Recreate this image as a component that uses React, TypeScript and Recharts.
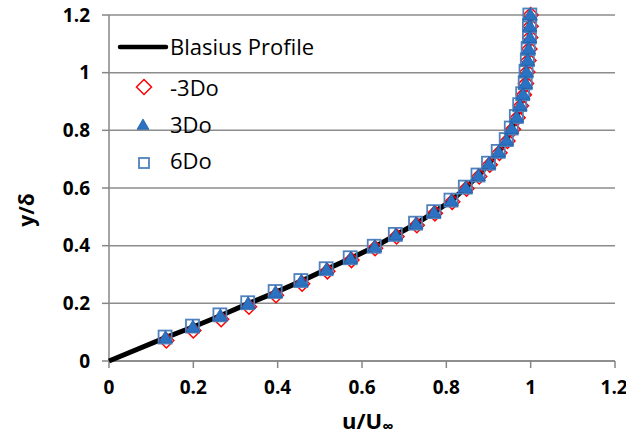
import React from "react";
import { CartesianGrid, Scatter, ScatterChart, XAxis, YAxis } from "recharts";

// Blasius solution, u/U vs y/delta
const blasiusU = [0, 0.134, 0.199, 0.264, 0.33, 0.395, 0.456, 0.516, 0.573, 0.63, 0.68, 0.728, 0.771, 0.812, 0.846, 0.876, 0.901, 0.924, 0.943, 0.955, 0.967, 0.975, 0.982, 0.988, 0.99, 0.993, 0.995, 0.998, 0.998, 0.999];
const blasiusY = [0, 0.081, 0.118, 0.157, 0.199, 0.238, 0.277, 0.318, 0.356, 0.396, 0.437, 0.476, 0.516, 0.556, 0.601, 0.643, 0.684, 0.725, 0.766, 0.806, 0.846, 0.887, 0.925, 0.963, 1.003, 1.043, 1.082, 1.122, 1.161, 1.2];

// measured stations
const minus3DoU = [0.136, 0.2, 0.266, 0.332, 0.396, 0.458, 0.518, 0.575, 0.631, 0.682, 0.73, 0.773, 0.814, 0.848, 0.878, 0.903, 0.926, 0.945, 0.958, 0.969, 0.977, 0.984, 0.989, 0.992, 0.995, 0.997, 0.999, 1.0, 1.0];
const minus3DoY = [0.071, 0.106, 0.145, 0.188, 0.228, 0.268, 0.311, 0.35, 0.391, 0.432, 0.471, 0.512, 0.552, 0.598, 0.64, 0.681, 0.722, 0.763, 0.804, 0.844, 0.885, 0.923, 0.962, 1.002, 1.042, 1.082, 1.122, 1.161, 1.2];

const plus3DoU = [0.134, 0.199, 0.264, 0.33, 0.395, 0.456, 0.516, 0.573, 0.63, 0.68, 0.728, 0.771, 0.812, 0.846, 0.876, 0.901, 0.924, 0.943, 0.955, 0.967, 0.975, 0.982, 0.988, 0.99, 0.993, 0.995, 0.998, 0.998, 0.999];
const plus3DoY = [0.081, 0.118, 0.157, 0.199, 0.238, 0.277, 0.318, 0.356, 0.396, 0.437, 0.476, 0.516, 0.556, 0.601, 0.643, 0.684, 0.725, 0.766, 0.806, 0.846, 0.887, 0.925, 0.963, 1.003, 1.043, 1.082, 1.122, 1.161, 1.2];

const plus6DoU = [0.133, 0.198, 0.263, 0.329, 0.394, 0.455, 0.515, 0.572, 0.629, 0.679, 0.727, 0.77, 0.811, 0.845, 0.875, 0.9, 0.923, 0.942, 0.954, 0.966, 0.974, 0.981, 0.987, 0.989, 0.992, 0.994, 0.997, 0.997, 0.998];
const plus6DoY = [0.083, 0.121, 0.16, 0.202, 0.241, 0.279, 0.32, 0.358, 0.398, 0.439, 0.478, 0.518, 0.558, 0.603, 0.645, 0.686, 0.727, 0.768, 0.808, 0.848, 0.889, 0.927, 0.965, 1.005, 1.045, 1.084, 1.124, 1.163, 1.2];

const xTicks = [0, 0.2, 0.4, 0.6, 0.8, 1, 1.2];
const yTicks = [0, 0.2, 0.4, 0.6, 0.8, 1, 1.2];

const toPoints = (xs: number[], ys: number[]) => xs.map((x, i) => ({ x, y: ys[i] }));

const FONT = "'Open Sans', 'Liberation Sans', sans-serif";
const AXIS_GRAY = "#868686";
const RED = "#ff0000";
const BLUE = "#2b72c2";
const SQUARE_BLUE = "#4f81bd";

const tickStyle = { fontFamily: FONT, fontSize: 19, fontWeight: 700, fill: "#000" };

function Diamond({ cx, cy }: any) {
  const r = 7.5;
  return (
    <polygon
      points={`${cx},${cy - r} ${cx + r},${cy} ${cx},${cy + r} ${cx - r},${cy}`}
      fill="none"
      stroke={RED}
      strokeWidth={1.5}
    />
  );
}

function Triangle({ cx, cy, s = 1 }: any) {
  return (
    <polygon
      points={`${cx},${cy - 7 * s} ${cx + 7 * s},${cy + 5 * s} ${cx - 7 * s},${cy + 5 * s}`}
      fill={BLUE}
      stroke="#1e5fa8"
      strokeWidth={0.8}
    />
  );
}

function Square({ cx, cy, h = 6.5 }: any) {
  return (
    <rect x={cx - h} y={cy - h} width={h * 2} height={h * 2} fill="none" stroke={SQUARE_BLUE} strokeWidth={1.8} />
  );
}

function NoDot() {
  return <g />;
}

export default function App() {
  return (
    <div style={{ position: "absolute", left: 0, top: 0, width: 626, height: 439, background: "#fff" }}>
      <ScatterChart width={626} height={439} margin={{ top: 15, right: 11, bottom: 0, left: 0 }}>
        <CartesianGrid vertical={false} stroke="#8c8c8c" strokeWidth={1.5} />
        <XAxis
          type="number"
          dataKey="x"
          domain={[0, 1.2]}
          ticks={xTicks}
          height={78}
          stroke={AXIS_GRAY}
          strokeWidth={1.5}
          tickSize={7}
          tickMargin={13}
          tick={tickStyle}
        />
        <YAxis
          type="number"
          dataKey="y"
          domain={[0, 1.2]}
          ticks={yTicks}
          width={109}
          stroke={AXIS_GRAY}
          strokeWidth={1.5}
          tickSize={7}
          tickMargin={12}
          tick={tickStyle}
        />
        <Scatter
          name="Blasius Profile"
          data={toPoints(blasiusU, blasiusY)}
          line={{ stroke: "#000", strokeWidth: 5 }}
          shape={NoDot}
          isAnimationActive={false}
        />
        <Scatter name="-3Do" data={toPoints(minus3DoU, minus3DoY)} shape={Diamond} isAnimationActive={false} />
        <Scatter name="6Do" data={toPoints(plus6DoU, plus6DoY)} shape={Square} isAnimationActive={false} />
        <Scatter name="3Do" data={toPoints(plus3DoU, plus3DoY)} shape={Triangle} isAnimationActive={false} />
      </ScatterChart>

      <svg width={626} height={439} style={{ position: "absolute", left: 0, top: 0, pointerEvents: "none" }}>
        {/* legend */}
        <line x1={120} y1={47} x2={166} y2={47} stroke="#000" strokeWidth={4.5} strokeLinecap="round" />
        <text x={170} y={55} fontFamily={FONT} fontSize={22}>Blasius Profile</text>
        <Diamond cx={144} cy={87} />
        <text x={170} y={96} fontFamily={FONT} fontSize={22}>-3Do</text>
        <Triangle cx={143} cy={125} s={0.85} />
        <text x={170} y={133} fontFamily={FONT} fontSize={22}>3Do</text>
        <Square cx={144} cy={163} h={5} />
        <text x={170} y={169} fontFamily={FONT} fontSize={22}>6Do</text>

        {/* axis titles */}
        <text x={342} y={429} fontFamily={FONT} fontSize={22} fontWeight={700}>
          u/U<tspan fontSize={16} dy={3}>∞</tspan>
        </text>
        <text
          x={0}
          y={0}
          transform="translate(34,210) rotate(-90)"
          textAnchor="middle"
          fontFamily={FONT}
          fontSize={21}
          fontWeight={700}
        >
          y/δ
        </text>
      </svg>
    </div>
  );
}
